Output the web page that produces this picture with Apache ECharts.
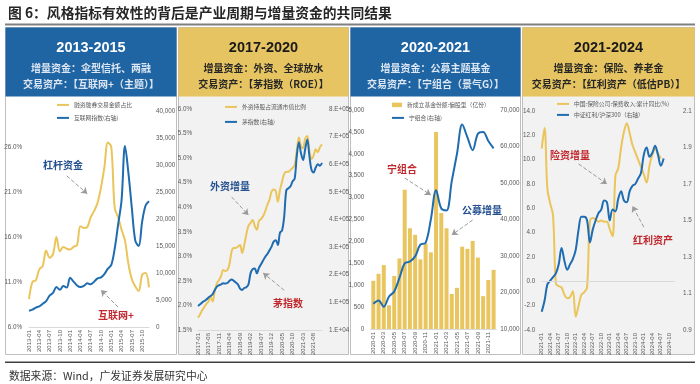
<!DOCTYPE html>
<html><head><meta charset="utf-8">
<script src="https://cdn.jsdelivr.net/npm/echarts@6/dist/echarts.min.js"></script>
<style>html,body{margin:0;padding:0;background:#fff}#c{width:700px;height:384px}</style>
</head><body><div id="c"></div>
<script>
// ---------- categories ----------
function months(y, m, n){const a=[];for(let k=0;k<n;k++){const t=m-1+k;a.push((y+Math.floor(t/12))+'-'+String(t%12+1).padStart(2,'0'));}return a;}
const p1Cats = months(2013,1,36);
const p2Cats = months(2017,1,60);
const p3Cats = months(2020,1,24);
const p4Cats = months(2021,1,48);

// ---------- panel 1: 2013-2015 ----------
const p1Margin = [9.1,11.0,11.2,12.4,12.8,14.5,13.7,14.1,16.0,14.4,14.9,14.7,14.6,14.9,15.1,17.2,17.0,17.1,18.2,18.9,19.8,21.5,23.8,26.5,26.0,19.2,18.2,16.8,15.6,13.0,11.3,10.5,10.0,11.8,12.0,10.4];
const p1Internet = [3000,3200,3600,3800,4300,4800,5800,6300,7400,6900,7600,7300,9100,8400,7700,7400,7600,8100,7900,8400,9000,9200,9800,10800,11500,14500,19000,23500,33500,28500,22000,16000,15000,19500,22500,23300];
const p1LeftTicks = [6,11,16,21,26];

// ---------- panel 2: 2017-2020 ----------
const p2Foreign = [1.75,1.82,1.90,1.97,2.03,2.08,2.18,2.08,2.30,2.45,2.52,2.60,2.72,2.70,2.72,2.85,3.10,3.17,3.17,3.20,3.23,3.07,3.23,3.45,3.62,3.68,3.74,3.62,3.54,3.72,3.76,3.82,3.92,4.05,4.15,4.32,4.36,4.33,4.11,4.35,4.52,4.68,4.72,4.72,4.76,4.80,4.86,5.15,5.42,5.25,5.20,5.40,5.45,5.15,4.98,5.05,5.18,5.12,5.22,5.28];
const p2Mao = [97000,103000,110000,115000,120000,128000,133000,140000,155000,167000,172000,175000,179000,178000,180000,188000,193000,188000,182000,175000,160000,155000,162000,165000,175000,215000,230000,233000,215000,235000,248000,262000,275000,285000,298000,312000,330000,335000,318000,362000,370000,420000,515000,523000,530000,548000,558000,640000,690000,650000,625000,665000,700000,640000,590000,580000,598000,610000,605000,615000];
const p2RightTicks = [10000,110000,210000,310000,410000,510000,610000,710000,810000];

// ---------- panel 3: 2020-2021 ----------
const p3Fund = [1100,1260,1460,540,1210,1610,3180,2300,2150,1590,1950,1750,4500,2650,2300,800,940,1880,1830,2010,1630,750,1120,1350];
const p3Ning = [16900,17800,16100,18900,20300,24000,28000,28500,29900,33100,33600,40000,48000,43000,42500,50500,58000,66000,62500,59000,63500,64000,61500,59500];

// ---------- panel 4: 2021-2024 ----------
const p4Premium = [10.9,12.6,7.6,6.4,5.4,-0.2,-0.4,-0.5,-1.1,-1.4,-1.3,-0.8,-2.9,-2.0,-1.1,-0.9,-0.5,5.0,5.2,5.1,4.9,5.0,4.9,4.9,4.3,3.7,8.7,9.3,11.0,12.3,13.0,12.2,11.2,10.6,10.0,9.4,8.8,8.1,9.5,10.4,10.9,10.5,10.1];
const p4Dividend = [1.00,1.06,1.15,1.17,1.19,1.21,1.26,1.35,1.28,1.23,1.26,1.29,1.34,1.45,1.52,1.52,1.50,1.38,1.45,1.50,1.54,1.56,1.61,1.60,1.50,1.56,1.55,1.62,1.66,1.61,1.60,1.66,1.69,1.70,1.73,1.76,1.86,1.90,1.85,1.87,1.91,1.86,1.80,1.84];
const p4RightTicks = [0.9,1.1,1.3,1.5,1.7,1.9,2.1];

// ---------- texts ----------
const titleText = '图 6：风格指标有效性的背后是产业周期与增量资金的共同结果';
const sourceText = '数据来源：Wind，广发证券发展研究中心';
const headYears = ['2013-2015','2017-2020','2020-2021','2021-2024'];
const headLine1 = ['增量资金：伞型信托、两融','增量资金：外资、全球放水','增量资金：公募主题基金','增量资金：保险、养老金'];
const headLine2 = ['交易资产：【互联网+（主题）】','交易资产：【茅指数（ROE）】','交易资产：【宁组合（景气G）】','交易资产：【红利资产（低估PB）】'];
const seriesNames = ['融资融券交易金额占比','互联网指数(右轴)','外资持股占流通市值比例','茅指数(右轴)','新成立基金份额:偏股型（亿份）','宁组合(右轴)','中国:保险公司:保费收入:累计同比(%)','中证红利/沪深300（右轴）'];

// ---------- styling ----------
const YEL='#EAC55B', BLU='#1F6CB0', HB='#1F64A3', HY='#E6C461';
const RED='#C0282D', DBLUE='#24508F';
const LF='"Liberation Sans", Arial, sans-serif';
const CJK='"Noto Sans CJK SC", sans-serif';
const lab = {fontSize:6.3,color:'#595959',fontFamily:LF};

const chart = echarts.init(document.getElementById('c'), null, {renderer:'canvas', width:700, height:384});

const grids = [
  {left:29, top:111, width:120, height:216},
  {left:198, top:109, width:124, height:221},
  {left:370.7, top:110, width:125.5, height:219},
  {left:541.7, top:111, width:133.3, height:219}
];
function xAx(gi, data, interval, bg, showLine){
  return {type:'category', gridIndex:gi, data:data, boundaryGap:bg,
    axisLine:{show:showLine, lineStyle:{color:'#d9d9d9'}}, axisTick:{show:false},
    axisLabel:{rotate:90, interval:interval, margin:3, fontSize:6, color:'#595959', fontFamily:LF},
    splitLine:{show:false}};
}
function yAx(gi, pos, min, max, extra, fmt, margin){
  const a = {type:'value', gridIndex:gi, position:pos, min:min, max:max,
    axisLine:{show:false}, axisTick:{show:false}, splitLine:{show:false},
    axisLabel:Object.assign({margin:margin, formatter:fmt}, lab)};
  if (extra.interval) a.interval = extra.interval;
  if (extra.custom) { a.axisLabel.customValues = extra.custom; a.axisTick.customValues = extra.custom; }
  return a;
}
const thou = v => Math.round(v).toLocaleString('en-US');
const expFmt = v => { const e = Math.floor(Math.log10(v)); const m = Math.round(v/Math.pow(10,e)); return m+'.E+'+String(e).padStart(2,'0'); };

const arrowStyle = {type:'dashed', color:'#9a9a9a', width:1};
function arrows(pairs){
  return {silent:true, symbol:['none','arrow'], symbolSize:6, animation:false,
    lineStyle:arrowStyle, label:{show:false}, emphasis:{disabled:true},
    data:pairs.map(p=>[{coord:p[0]},{coord:p[1]}])};
}
function lineSeries(name, xi, yi, data, color, extra){
  return Object.assign({type:'line', name:name, xAxisIndex:xi, yAxisIndex:yi, data:data, smooth:0.35,
    symbol:'none', lineStyle:{width:2, color:color}, itemStyle:{color:color}}, extra||{});
}
function legendAt(left, top, name, iw, ih){
  return {left:left, top:top, padding:0, itemWidth:iw, itemHeight:ih, selectedMode:false,
    data:[{name:name, icon:'rect'}], textStyle:{fontSize:5.8, color:'#595959', fontFamily:CJK}};
}

// graphic elements
const panelX = [5,178,350,522], panelW = [172,171,171,173];
const bodyBg = ['#ffffff','#f2f2f2','#ffffff','#f2f2f2'];
const headBg = [HB,HY,HB,HY];
const headFg = ['#ffffff','#1a1a1a','#ffffff','#1a1a1a'];
const headFg2 = ['#dde7f3','#262626','#dde7f3','#262626'];
const g = [];
g.push({type:'text', style:{text:titleText, x:8, y:13, font:'bold 13.8px '+CJK, fill:'#262626', textVerticalAlign:'middle'}});
g.push({type:'rect', shape:{x:5,y:23.5,width:690,height:2}, style:{fill:'#7f7f7f'}});
for (let k=0;k<4;k++){
  const cx = panelX[k]+panelW[k]/2;
  g.push({type:'rect', z:-10, shape:{x:panelX[k]+0.5,y:27.5,width:panelW[k]-1,height:327}, style:{fill:bodyBg[k], stroke:'#bfbfbf', lineWidth:1}});
  g.push({type:'rect', z:-9, shape:{x:panelX[k]+0.5,y:27.5,width:panelW[k]-1,height:69}, style:{fill:headBg[k]}});
  g.push({type:'text', style:{text:headYears[k], x:cx, y:48, font:'bold 14.5px '+LF, fill:headFg[k], textAlign:'center', textVerticalAlign:'middle'}});
  g.push({type:'text', style:{text:headLine1[k], x:cx, y:68, font:'bold 10px '+CJK, fill:headFg2[k], textAlign:'center', textVerticalAlign:'middle'}});
  g.push({type:'text', style:{text:headLine2[k], x:cx, y:84, font:'bold 10px '+CJK, fill:headFg2[k], textAlign:'center', textVerticalAlign:'middle'}});
}
const notes = [
  ['杠杆资金',63,165,DBLUE],['互联网+',116,315,RED],
  ['外资增量',230,186,DBLUE],['茅指数',288,303,RED],
  ['宁组合',402,169,RED],['公募增量',482,210,DBLUE],
  ['险资增量',570,155,RED],['红利资产',653,240,RED]
];
notes.forEach(n=>g.push({type:'text', z:100, style:{text:n[0], x:n[1], y:n[2], font:'bold 10px '+CJK, fill:n[3], textAlign:'center', textVerticalAlign:'middle'}}));
g.push({type:'rect', shape:{x:5,y:361.5,width:690,height:1.5}, style:{fill:'#404040'}});
g.push({type:'text', style:{text:sourceText, x:9, y:376, font:'10.8px '+CJK, fill:'#333333', textVerticalAlign:'middle'}});

const option = {
  animation:false,
  backgroundColor:'#ffffff',
  grid: grids,
  legend: [
    legendAt(57,102,seriesNames[0],12,2), legendAt(57,115,seriesNames[1],12,2),
    legendAt(225,104,seriesNames[2],12,2), legendAt(225,119,seriesNames[3],12,2),
    legendAt(392,102,seriesNames[4],10,4.5), legendAt(392,115,seriesNames[5],12,2),
    legendAt(557,101,seriesNames[6],12,2), legendAt(557,112,seriesNames[7],12,2)
  ],
  xAxis: [
    xAx(0,p1Cats,2,false,true), xAx(1,p2Cats,4,false,true),
    xAx(2,p3Cats,1,true,true), xAx(3,p4Cats,2,false,false)
  ],
  yAxis: [
    yAx(0,'left',6,30,{custom:p1LeftTicks}, v=>v.toFixed(1)+'%',7),
    yAx(0,'right',0,40000,{interval:5000}, thou,7),
    yAx(1,'left',1.5,6,{interval:0.5}, v=>v.toFixed(1)+'%',6),
    yAx(1,'right',10000,810000,{custom:p2RightTicks}, expFmt,7),
    yAx(2,'left',0,5000,{interval:500}, thou,6.5),
    yAx(2,'right',10000,70000,{interval:10000}, thou,4),
    yAx(3,'left',-4,14,{interval:2}, v=>v.toFixed(1),6.5),
    yAx(3,'right',0.9,2.1,{custom:p4RightTicks}, v=>v.toFixed(1),8)
  ],
  series: [
    lineSeries(seriesNames[0],0,0,p1Margin,YEL,{markLine:arrows([[[11,22.8],[17,20.8]],[[26,8.2],[21,10.1]]])}),
    lineSeries(seriesNames[1],0,1,p1Internet,BLU),
    lineSeries(seriesNames[2],1,2,p2Foreign,YEL,{markLine:arrows([[[16,4.21],[24,3.84]],[[41,2.31],[31,2.66]]])}),
    lineSeries(seriesNames[3],1,3,p2Mao,BLU),
    {type:'bar', name:seriesNames[4], xAxisIndex:2, yAxisIndex:4, data:p3Fund, barWidth:4, itemStyle:{color:'#E8C55F'},
      markLine:arrows([[[6,3447],[11,3059]],[[19,2489],[15,2146]]])},
    lineSeries(seriesNames[5],2,5,p3Ning,BLU),
    lineSeries(seriesNames[6],3,6,p4Premium,YEL,{markLine:{silent:true, symbol:'none', label:{show:false}, lineStyle:{type:'solid', color:'#d9d9d9', width:1}, data:[{yAxis:0}]}, z:3}),
    lineSeries(seriesNames[7],3,7,p4Dividend,BLU,{markLine:arrows([[[13,1.81],[23,1.70]],[[36,1.464],[32,1.579]]]), z:4})
  ],
  graphic: {elements: g}
};
chart.setOption(option);
</script>
</body></html>
